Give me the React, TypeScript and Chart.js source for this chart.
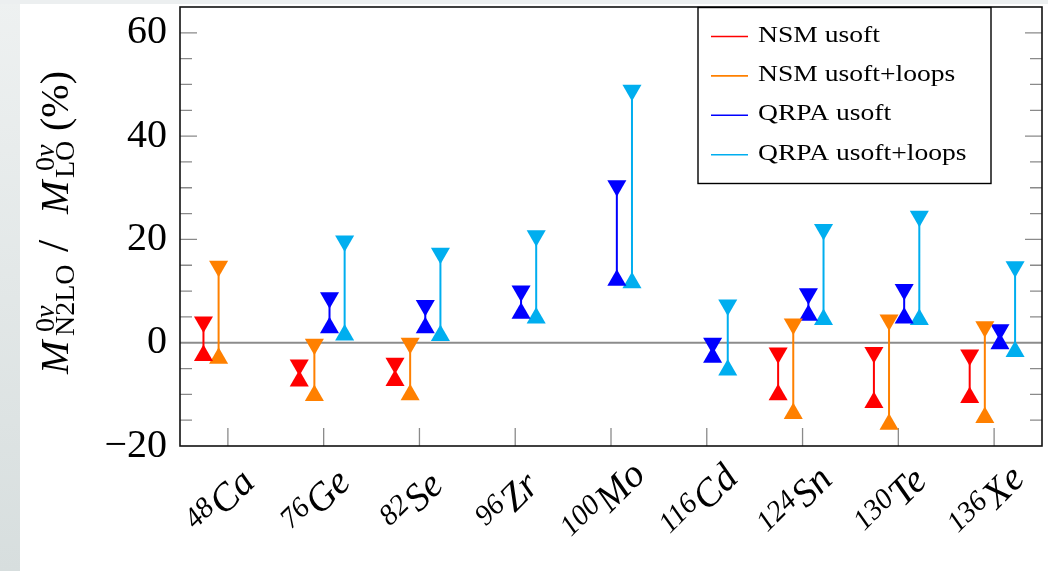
import React, { useEffect, useRef } from 'react';
import { Chart, registerables } from 'chart.js';

Chart.register(...registerables);

// ---------- data ----------
const MASS_NUMBERS = ['48', '76', '82', '96', '100', '116', '124', '130', '136'];
const ELEMENTS = ['Ca', 'Ge', 'Se', 'Zr', 'Mo', 'Cd', 'Sn', 'Te', 'Xe'];

const NSM_USOFT_HIGH = [4.0, -4.3, -4.0, null, null, null, -2.0, -1.9, -2.4];
const NSM_USOFT_LOW = [-2.5, -7.4, -7.3, null, null, null, -10.1, -11.6, -10.6];

const NSM_LOOPS_HIGH = [14.8, -0.3, -0.1, null, null, null, 3.6, 4.4, 3.1];
const NSM_LOOPS_LOW = [-3.0, -10.2, -10.1, null, null, null, -13.7, -15.8, -14.5];

const QRPA_USOFT_HIGH = [null, 8.7, 7.2, 10.0, 30.4, -0.1, 9.5, 10.3, 2.5];
const QRPA_USOFT_LOW = [null, 2.9, 2.9, 5.7, 12.1, -2.8, 5.3, 4.8, -0.2];

const QRPA_LOOPS_HIGH = [null, 19.7, 17.3, 20.7, 48.9, 7.3, 21.9, 24.5, 14.7];
const QRPA_LOOPS_LOW = [null, 1.5, 1.4, 4.8, 11.6, -5.3, 4.5, 4.5, -1.7];

const SERIES_LABELS = ['NSM usoft', 'NSM usoft+loops', 'QRPA usoft', 'QRPA usoft+loops'];

const Y_TICKS = [-20, 0, 20, 40, 60];
const Y_MIN = -20;
const Y_MAX = 65;

// ---------- style ----------
const SERIF = "'Liberation Serif', 'Times New Roman', serif";
const MARKER_RADIUS = 11;
const SERIES_STYLE = [
  { color: '#ff0000', offset: -0.255 },
  { color: '#ff8000', offset: -0.097 },
  { color: '#0000ff', offset: 0.061 },
  { color: '#00aeef', offset: 0.219 },
];
const SERIES_VALUES = [
  [NSM_USOFT_HIGH, NSM_USOFT_LOW],
  [NSM_LOOPS_HIGH, NSM_LOOPS_LOW],
  [QRPA_USOFT_HIGH, QRPA_USOFT_LOW],
  [QRPA_LOOPS_HIGH, QRPA_LOOPS_LOW],
];

// point layout per series: [gap, (high, low, gap)*]
function buildPoints(high: (number | null)[], low: (number | null)[], offset: number) {
  const pts: { x: number; y: number | null }[] = [{ x: offset, y: null }];
  high.forEach((h, i) => {
    const l = low[i];
    if (h == null || l == null) return;
    pts.push({ x: i + offset, y: h }, { x: i + offset, y: l }, { x: i + offset, y: null });
  });
  return pts;
}

const decorPlugin = {
  id: 'decor',
  beforeDraw(chart: any) {
    const { ctx, width, height } = chart;
    ctx.save();
    ctx.fillStyle = '#ffffff';
    ctx.fillRect(0, 0, width, height);
    const g = ctx.createLinearGradient(0, 0, 0, height);
    g.addColorStop(0, '#eef1f1');
    g.addColorStop(1, '#d7dede');
    ctx.fillStyle = g;
    ctx.fillRect(0, 0, 20, height);
    ctx.fillStyle = '#eceff0';
    ctx.fillRect(0, 0, width, 4);
    ctx.restore();
  },
  beforeDatasetsDraw(chart: any) {
    const { ctx, chartArea } = chart;
    const xs = chart.scales.x;
    const ys = chart.scales.y;
    const { left, right, bottom } = chartArea;
    ctx.save();
    ctx.strokeStyle = '#8a8a8a';
    ctx.lineWidth = 1.3;
    for (let v = Y_MIN + 5; v < Y_MAX; v += 5) {
      if (v === 0) continue;
      const major = Y_TICKS.includes(v);
      const len = major ? 17 : 12;
      const py = ys.getPixelForValue(v);
      ctx.beginPath();
      ctx.moveTo(left, py);
      ctx.lineTo(left + len, py);
      ctx.moveTo(right, py);
      ctx.lineTo(right - len, py);
      ctx.stroke();
    }
    MASS_NUMBERS.forEach((_, i) => {
      const px = xs.getPixelForValue(i);
      ctx.beginPath();
      ctx.moveTo(px, bottom);
      ctx.lineTo(px, bottom - 18);
      ctx.stroke();
    });
    const y0 = ys.getPixelForValue(0);
    ctx.strokeStyle = '#8c8c8c';
    ctx.lineWidth = 2;
    ctx.beginPath();
    ctx.moveTo(left, y0);
    ctx.lineTo(right, y0);
    ctx.stroke();
    ctx.restore();
  },
  afterDraw(chart: any) {
    const { ctx, chartArea } = chart;
    const xs = chart.scales.x;
    const { left, right, top, bottom } = chartArea;
    ctx.save();
    ctx.strokeStyle = '#111';
    ctx.lineWidth = 1.6;
    ctx.strokeRect(left, top, right - left, bottom - top);

    // legend
    const LX = 698, LY = 7.5, LW = 293, LH = 176;
    ctx.fillStyle = '#ffffff';
    ctx.fillRect(LX, LY, LW, LH);
    ctx.strokeStyle = '#000';
    ctx.lineWidth = 1.4;
    ctx.strokeRect(LX, LY, LW, LH);
    SERIES_LABELS.forEach((label, i) => {
      const y = LY + 29 + i * 39.4;
      ctx.strokeStyle = SERIES_STYLE[i].color;
      ctx.lineWidth = 1.6;
      ctx.beginPath();
      ctx.moveTo(711, y);
      ctx.lineTo(748, y);
      ctx.stroke();
      ctx.save();
      ctx.translate(758, y + 5);
      ctx.scale(1.2, 1);
      ctx.fillStyle = '#000';
      ctx.font = `23px ${SERIF}`;
      ctx.textAlign = 'left';
      ctx.textBaseline = 'alphabetic';
      ctx.fillText(label, 0, 0);
      ctx.restore();
    });

    // x category labels (rotated)
    ctx.fillStyle = '#000';
    ctx.textBaseline = 'alphabetic';
    ctx.textAlign = 'left';
    const numFont = `italic 29px ${SERIF}`;
    const elFont = `italic 39px ${SERIF}`;
    MASS_NUMBERS.forEach((m, i) => {
      const el = ELEMENTS[i];
      const px = xs.getPixelForValue(i);
      ctx.save();
      ctx.translate(px - 8, 501);
      ctx.rotate(-Math.PI / 4);
      ctx.font = numFont;
      const wn = ctx.measureText(m).width;
      ctx.font = elFont;
      const we = ctx.measureText(el).width;
      const W = wn + we + 1;
      ctx.font = numFont;
      ctx.fillText(m, -W / 2, 3);
      ctx.font = elFont;
      ctx.fillText(el, -W / 2 + wn + 1, 14);
      ctx.restore();
    });

    // y axis title: M^{0ν}_{N2LO} / M^{0ν}_{LO} (%)
    ctx.save();
    ctx.translate(68, 374);
    ctx.rotate(-Math.PI / 2);
    ctx.fillStyle = '#000';
    const bigIt = `italic 40px ${SERIF}`;
    const big = `40px ${SERIF}`;
    const small = `28px ${SERIF}`;
    const smallIt = `italic 28px ${SERIF}`;
    const sup = (x: number) => {
      ctx.font = small;
      ctx.fillText('0', x, -14);
      const w0 = ctx.measureText('0').width;
      ctx.font = smallIt;
      ctx.fillText('ν', x + w0, -14);
    };
    ctx.font = bigIt;
    ctx.fillText('M', 0, 0);
    sup(42);
    ctx.font = small;
    ctx.fillText('N2LO', 38, 6);
    ctx.font = `44px ${SERIF}`;
    ctx.fillText('/', 122, 0);
    ctx.font = bigIt;
    ctx.fillText('M', 160, 0);
    sup(203);
    ctx.font = small;
    ctx.fillText('LO', 196, 6);
    ctx.font = big;
    ctx.fillText('(%)', 243, 0);
    ctx.restore();

    ctx.restore();
  },
};

export default function App() {
  const ref = useRef<HTMLCanvasElement>(null);

  useEffect(() => {
    if (!ref.current) return;
    const radiusFor = (c: any) => (c.dataIndex % 3 === 0 ? 0 : MARKER_RADIUS);
    const datasets = SERIES_LABELS.map((label, i) => ({
      label,
      data: buildPoints(SERIES_VALUES[i][0], SERIES_VALUES[i][1], SERIES_STYLE[i].offset),
      borderColor: SERIES_STYLE[i].color,
      backgroundColor: SERIES_STYLE[i].color,
      borderWidth: 2,
      pointStyle: 'triangle',
      pointRadius: radiusFor,
      pointHoverRadius: radiusFor,
      pointBorderWidth: 0,
      pointHoverBorderWidth: 0,
      pointBackgroundColor: SERIES_STYLE[i].color,
      pointBorderColor: SERIES_STYLE[i].color,
      pointRotation: (c: any) => (c.dataIndex % 3 === 1 ? 180 : 0),
      spanGaps: false,
      clip: false as any,
      tension: 0,
      fill: false,
    }));

    const chart = new Chart(ref.current, {
      type: 'line',
      data: { datasets: datasets as any },
      options: {
        animation: false,
        responsive: false,
        devicePixelRatio: 1,
        layout: { padding: { top: 7, right: 6, left: 0, bottom: 0 } },
        plugins: {
          legend: { display: false },
          tooltip: { enabled: false },
        },
        scales: {
          x: {
            type: 'linear',
            min: -0.5,
            max: 8.5,
            grid: { display: false, drawTicks: false },
            border: { display: false },
            ticks: { display: false },
            afterFit: (s: any) => {
              s.height = 125;
              s.paddingLeft = 0;
              s.paddingRight = 0;
            },
          },
          y: {
            type: 'linear',
            min: Y_MIN,
            max: Y_MAX,
            grid: { display: false, drawTicks: false },
            border: { display: false },
            afterBuildTicks: (s: any) => {
              s.ticks = Y_TICKS.map((v) => ({ value: v }));
            },
            ticks: {
              padding: 13,
              color: '#000',
              font: { family: SERIF, size: 40 },
              callback: (v: any) => String(v).replace('-', '\u2212'),
            },
            afterFit: (s: any) => {
              s.width = 180;
              s.paddingTop = 0;
              s.paddingBottom = 0;
            },
          },
        },
      },
      plugins: [decorPlugin],
    });
    return () => chart.destroy();
  }, []);

  return (
    <div style={{ position: 'fixed', left: 0, top: 0, width: 1048, height: 571 }}>
      <canvas
        ref={ref}
        width={1048}
        height={571}
        style={{ width: '1048px', height: '571px', display: 'block' }}
      />
    </div>
  );
}
